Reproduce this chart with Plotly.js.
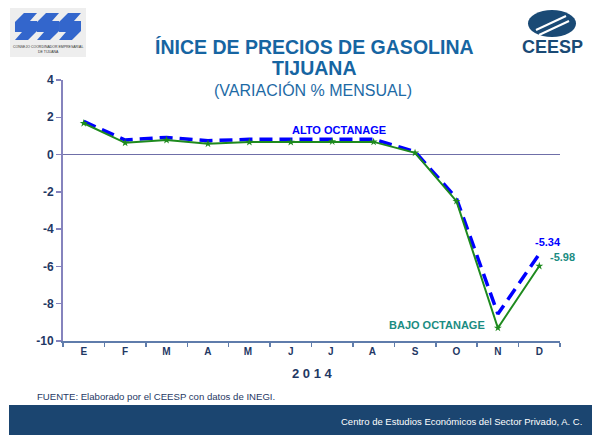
<!DOCTYPE html>
<html>
<head>
<meta charset="utf-8">
<script src="https://cdn.plot.ly/plotly-3.0.1.min.js"></script>
<style>
  body { margin: 0; background: #ffffff; }
  #chart { width: 592px; height: 435px; }
</style>
</head>
<body>
<div id="chart"></div>
<script>
// meses 2014
let months = ['E', 'F', 'M', 'A', 'M ', 'J', 'J ', 'A ', 'S', 'O', 'N', 'D'];

// variacion % mensual
let altoOctanaje = [1.78, 0.78, 0.92, 0.74, 0.82, 0.82, 0.83, 0.82, 0.16, -2.35, -8.55, -5.34];
let bajoOctanaje = [1.68, 0.63, 0.78, 0.58, 0.67, 0.67, 0.7, 0.68, 0.09, -2.5, -9.3, -5.98];

let yTicks = [4, 2, 0, -2, -4, -6, -8, -10];
let yTickText = ['4', '2', '0', '-2', '-4', '-6', '-8', '-10'];

let navy = '#1f3864';
let axisColor = '#8583bd';

// area de la grafica en pixeles
const L = 63, R = 560, T = 80, B = 341;
function px(x) { return (x - L) / (R - L); }
function py(y) { return (B - y) / (B - T); }

let traces = [
    {
        x: months,
        y: altoOctanaje,
        mode: 'lines',
        line: {color: '#0000ff', width: 3.5, dash: '13px,7px'},
        hoverinfo: 'y'
    },
    {
        x: months,
        y: bajoOctanaje,
        mode: 'lines+markers',
        line: {color: '#1e8a1e', width: 2},
        marker: {symbol: 'star', size: 6, color: '#1e8a1e'},
        hoverinfo: 'y'
    }
];

// forma tipo "C" del logo, en pixeles de la pagina
function cceShape(left, top) {
    let pts = [[left, top + 9], [left + 9, top], [left + 22, top], [left + 15, top + 8], [left + 22, top + 8],
               [left + 22, top + 18], [left + 13, top + 27], [left, top + 27], [left + 7, top + 19], [left, top + 19]];
    return 'M ' + pts.map(p => px(p[0]).toFixed(4) + ',' + py(p[1]).toFixed(4)).join(' L ') + ' Z';
}

// texto en pixeles de la pagina
function label(text, x, y, size, color, xanchor) {
    return {xref: 'paper', yref: 'paper', x: px(x), y: py(y), text: text,
        xanchor: xanchor || 'center', yanchor: 'middle', showarrow: false,
        font: {size: size, color: color}};
}

let layout = {
    width: 592,
    height: 435,
    paper_bgcolor: '#ffffff',
    plot_bgcolor: '#ffffff',
    showlegend: false,
    margin: {l: L, r: 592 - R, t: T, b: 435 - B},
    font: {family: 'Arial, Liberation Sans, sans-serif', color: navy},
    xaxis: {
        type: 'category',
        range: [-0.5, 11.5],
        showgrid: false,
        zeroline: false,
        showline: true,
        linecolor: '#5f7cab',
        linewidth: 1.5,
        ticks: 'outside',
        tickson: 'boundaries',
        ticklen: 4,
        tickcolor: '#5f7cab',
        tickwidth: 1.5,
        tickfont: {size: 10, color: navy, weight: 'bold'},
        fixedrange: true
    },
    yaxis: {
        range: [-10, 4],
        tickvals: yTicks,
        ticktext: yTickText,
        showgrid: false,
        zeroline: true,
        zerolinecolor: '#6f6fa8',
        zerolinewidth: 1.5,
        showline: true,
        linecolor: axisColor,
        linewidth: 2,
        ticks: 'outside',
        ticklen: 5,
        tickcolor: axisColor,
        tickwidth: 1.5,
        tickfont: {size: 12, color: navy, weight: 'bold'},
        fixedrange: true
    },
    annotations: [
        label('<b>ÍNICE DE PRECIOS DE GASOLINA</b>', 314, 47, 19.5, '#1665a2'),
        label('<b>TIJUANA</b>', 314, 68, 19.5, '#1665a2'),
        label('(VARIACIÓN % MENSUAL)', 313, 90, 16, '#1d6aa5'),
        label('<b>ALTO OCTANAGE</b>', 339, 130, 11, '#0000ff'),
        label('<b>BAJO OCTANAGE</b>', 437, 325, 11, '#1b8c82'),
        label('<b>-5.34</b>', 548, 242, 11, '#0000ff'),
        label('<b>-5.98</b>', 562, 257, 11, '#1b8c82'),
        label('<b>2 0 1 4</b>', 312, 373, 13, navy),
        label('FUENTE: Elaborado por el CEESP con datos de INEGI.', 35, 396, 9.6, navy, 'left'),
        label('Centro de Estudios Económicos del Sector Privado, A. C.', 584, 421, 9.5, '#ffffff', 'right'),
        // logos
        label('<b>CEESP</b>', 552, 47, 18, '#1a4a75'),
        label('CONSEJO COORDINADOR EMPRESARIAL<br>DE TIJUANA', 48, 49, 3.5, '#333333')
    ],
    shapes: [
        // franja inferior
        {type: 'rect', xref: 'paper', yref: 'paper', x0: px(9), x1: px(600), y0: py(440), y1: py(405),
            fillcolor: '#1b4570', line: {width: 0}, layer: 'below'},
        // logo CCE
        {type: 'rect', xref: 'paper', yref: 'paper', x0: px(10), x1: px(86), y0: py(57), y1: py(8),
            fillcolor: '#eeeeee', line: {width: 0}},
        {type: 'path', xref: 'paper', yref: 'paper', path: cceShape(15, 13), fillcolor: '#3366cc', line: {width: 0}},
        {type: 'path', xref: 'paper', yref: 'paper', path: cceShape(37, 13), fillcolor: '#3366cc', line: {width: 0}},
        {type: 'path', xref: 'paper', yref: 'paper', path: cceShape(59, 13), fillcolor: '#3366cc', line: {width: 0}},
        // ovalo CEESP
        {type: 'circle', xref: 'paper', yref: 'paper', x0: px(528), x1: px(576), y0: py(37), y1: py(10),
            fillcolor: '#1a4a75', line: {width: 0}},
        {type: 'line', xref: 'paper', yref: 'paper', x0: px(536), x1: px(566), y0: py(30), y1: py(16),
            line: {color: '#ffffff', width: 2}},
        {type: 'line', xref: 'paper', yref: 'paper', x0: px(539), x1: px(569), y0: py(35), y1: py(21),
            line: {color: '#ffffff', width: 2}}
    ]
};

Plotly.newPlot('chart', traces, layout, {displayModeBar: false, staticPlot: true});
</script>
</body>
</html>
